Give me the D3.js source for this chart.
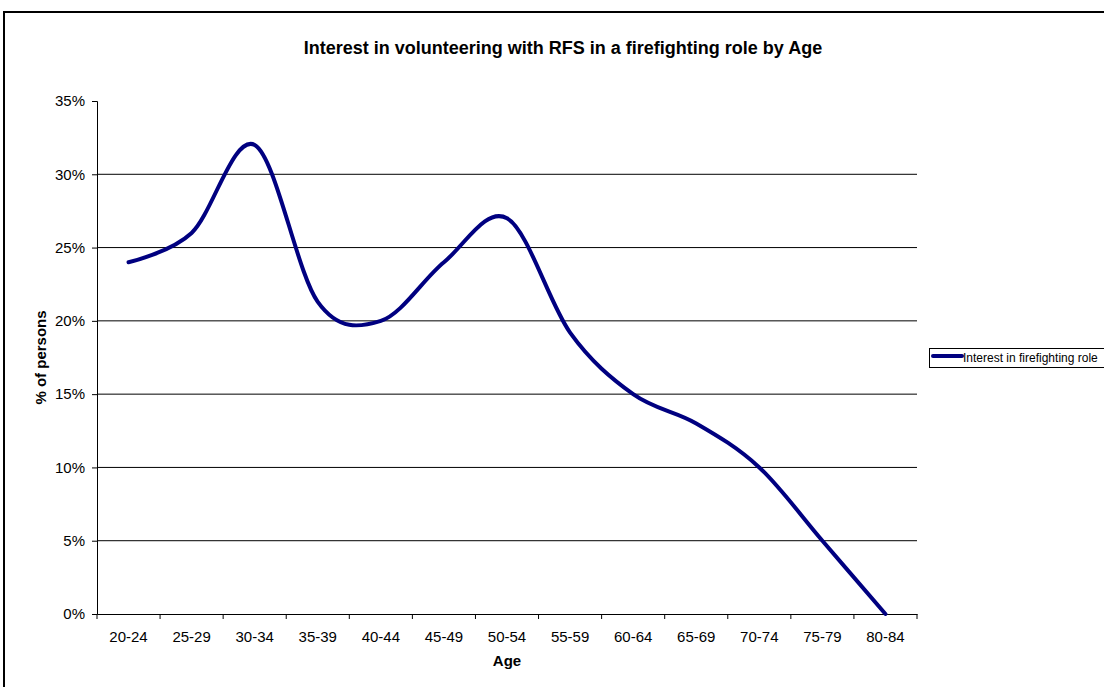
<!DOCTYPE html>
<html>
<head>
<meta charset="utf-8">
<script src="https://cdn.jsdelivr.net/npm/d3@7"></script>
<style>
  html, body { margin: 0; padding: 0; background: #fff; }
  svg { display: block; font-family: "Liberation Sans", Arial, sans-serif; }
</style>
</head>
<body>
<svg id="chart" width="1104" height="687"></svg>
<script>
// Age groups along the x axis
const ageGroups = ["20-24", "25-29", "30-34", "35-39", "40-44", "45-49", "50-54",
                   "55-59", "60-64", "65-69", "70-74", "75-79", "80-84"];
// Share of persons interested in a firefighting role (%)
const interestValues = [24, 26, 32, 21.3, 20, 24, 27, 19.2, 15, 13, 10, 5, 0];
// Y axis tick values (%)
const yTicks = [0, 5, 10, 15, 20, 25, 30, 35];
const seriesName = "Interest in firefighting role";

const svg = d3.select("#chart");
const FONT = "Liberation Sans, Arial, sans-serif";

// outer frame
svg.append("rect")
  .attr("x", 4).attr("y", 12).attr("width", 1110).attr("height", 690)
  .attr("fill", "none").attr("stroke", "#000").attr("stroke-width", 2);

const plot = { left: 97, right: 917, top: 101, bottom: 614 };

const x = d3.scaleBand().domain(ageGroups).range([plot.left, plot.right]);
const y = d3.scaleLinear().domain([0, 35]).range([plot.bottom, plot.top]);

// horizontal gridlines
svg.append("g")
  .selectAll("line")
  .data(yTicks.filter(t => t > 0 && t < 35))
  .join("line")
  .attr("x1", plot.left).attr("x2", plot.right)
  .attr("y1", d => y(d)).attr("y2", d => y(d))
  .attr("stroke", "#000").attr("stroke-width", 1);

// y axis
const yAxis = svg.append("g")
  .attr("transform", `translate(${plot.left},0)`)
  .call(d3.axisLeft(y).tickValues(yTicks).tickFormat(d => d + "%").tickSize(5).tickPadding(7));
yAxis.select(".domain").attr("stroke", "#000");
yAxis.selectAll(".tick line").attr("stroke", "#000");
yAxis.selectAll("text").attr("font-size", 15).attr("fill", "#000").attr("font-family", FONT);

// x axis with ticks on the band boundaries
const xAxis = svg.append("g")
  .attr("transform", `translate(0,${plot.bottom})`)
  .call(d3.axisBottom(x).tickSize(0).tickPadding(17));
xAxis.select(".domain").attr("stroke", "#000");
xAxis.selectAll("text").attr("font-size", 15).attr("fill", "#000").attr("font-family", FONT);
const boundaries = ageGroups.map(g => x(g)).concat([plot.right]);
svg.append("g")
  .selectAll("line")
  .data(boundaries)
  .join("line")
  .attr("x1", d => d).attr("x2", d => d)
  .attr("y1", plot.bottom).attr("y2", plot.bottom + 5)
  .attr("stroke", "#000");

// smoothed series line
const line = d3.line()
  .x((d, i) => x(ageGroups[i]) + x.bandwidth() / 2)
  .y(d => y(d))
  .curve(d3.curveCardinal.tension(0));
svg.append("path")
  .datum(interestValues)
  .attr("d", line)
  .attr("fill", "none")
  .attr("stroke", "#000080")
  .attr("stroke-width", 4)
  .attr("stroke-linejoin", "round")
  .attr("stroke-linecap", "round");

// title
svg.append("text")
  .attr("x", 563).attr("y", 54)
  .attr("text-anchor", "middle")
  .attr("font-size", 18).attr("font-weight", "bold")
  .text("Interest in volunteering with RFS in a firefighting role by Age");

// axis titles
svg.append("text")
  .attr("x", (plot.left + plot.right) / 2).attr("y", 666)
  .attr("text-anchor", "middle")
  .attr("font-size", 15).attr("font-weight", "bold")
  .text("Age");
svg.append("text")
  .attr("transform", `translate(46,${(plot.top + plot.bottom) / 2}) rotate(-90)`)
  .attr("text-anchor", "middle")
  .attr("font-size", 15).attr("font-weight", "bold")
  .text("% of persons");

// legend
const legend = svg.append("g");
legend.append("rect")
  .attr("x", 929.5).attr("y", 348.5).attr("width", 180).attr("height", 19)
  .attr("fill", "#fff").attr("stroke", "#000");
legend.append("line")
  .attr("x1", 933).attr("x2", 962).attr("y1", 356).attr("y2", 356)
  .attr("stroke", "#000080").attr("stroke-width", 4).attr("stroke-linecap", "round");
legend.append("text")
  .attr("x", 963).attr("y", 362)
  .attr("font-size", 12)
  .text(seriesName);
</script>
</body>
</html>
